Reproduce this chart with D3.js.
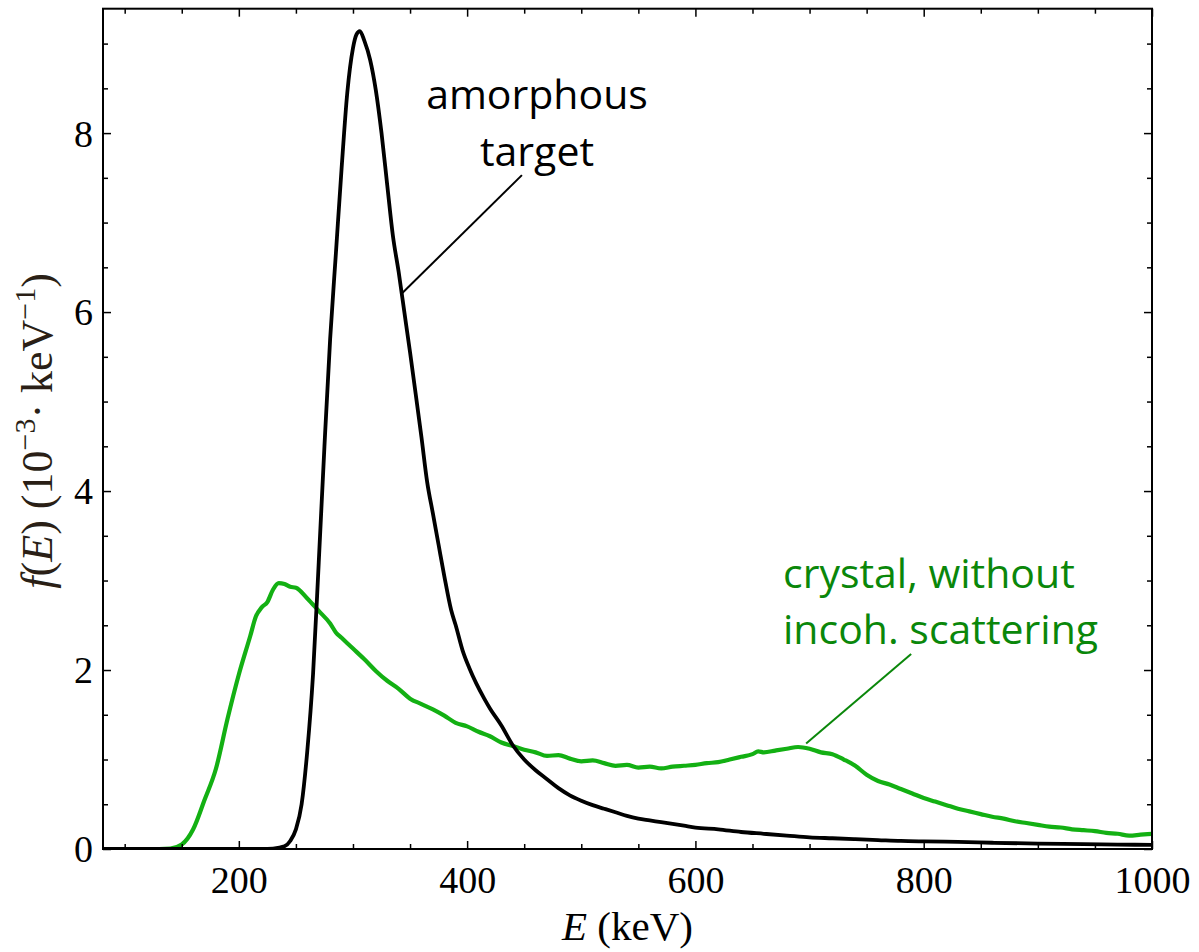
<!DOCTYPE html>
<html>
<head>
<meta charset="utf-8">
<script src="https://cdn.jsdelivr.net/npm/d3@7"></script>
<style>
  html, body { margin: 0; padding: 0; background: #fff; }
  svg { display: block; }
</style>
</head>
<body>
<svg id="chart" width="1199" height="952"></svg>
<script>
// Photon energy (keV) and spectral density f(E) in units of 1e-3 keV^-1
const amorphousE = [81, 200, 220, 230, 240, 245, 250, 255, 260, 265, 270, 275, 280, 285, 290, 295, 300, 303, 306, 310, 315, 320, 325, 330, 335, 340, 345, 350, 355, 360, 365, 370, 375, 380, 386, 390, 396, 402, 408, 415, 420, 430, 440, 450, 460, 470, 480, 490, 500, 510, 520, 530, 540, 550, 560, 570, 580, 590, 600, 620, 640, 660, 680, 700, 720, 740, 760, 780, 800, 830, 860, 900, 940, 970, 1000];
const amorphousF = [0, 0, 0, 0.005, 0.03, 0.09, 0.22, 0.5, 1.1, 1.95, 3.2, 4.5, 5.7, 6.65, 7.6, 8.45, 8.95, 9.1, 9.14, 9.03, 8.82, 8.48, 8.0, 7.42, 6.85, 6.45, 6.0, 5.55, 5.08, 4.6, 4.1, 3.75, 3.4, 3.05, 2.67, 2.5, 2.22, 2.02, 1.85, 1.68, 1.57, 1.38, 1.16, 1.0, 0.88, 0.78, 0.68, 0.6, 0.54, 0.49, 0.45, 0.41, 0.37, 0.34, 0.32, 0.3, 0.28, 0.26, 0.24, 0.22, 0.19, 0.17, 0.15, 0.13, 0.12, 0.11, 0.1, 0.09, 0.085, 0.08, 0.07, 0.06, 0.055, 0.05, 0.045];

const crystalE = [81, 130, 140, 150, 160, 170, 180, 190, 200, 210, 215, 220, 225, 230, 235, 240, 245, 250, 260, 270, 280, 285, 290, 300, 310, 320, 330, 340, 350, 360, 370, 380, 390, 400, 410, 420, 430, 440, 450, 460, 470, 480, 490, 500, 510, 520, 530, 540, 550, 560, 570, 580, 590, 600, 610, 620, 630, 640, 650, 655, 660, 670, 680, 690, 700, 710, 720, 730, 740, 750, 760, 770, 780, 790, 800, 810, 820, 830, 840, 850, 860, 870, 880, 890, 900, 910, 920, 930, 940, 950, 960, 970, 980, 990, 1000];
const crystalF = [0, 0, 0.005, 0.05, 0.22, 0.55, 0.9, 1.45, 1.95, 2.38, 2.6, 2.7, 2.76, 2.9, 2.97, 2.96, 2.93, 2.92, 2.8, 2.66, 2.52, 2.42, 2.36, 2.24, 2.12, 1.99, 1.88, 1.79, 1.68, 1.62, 1.56, 1.49, 1.41, 1.37, 1.31, 1.26, 1.19, 1.15, 1.11, 1.08, 1.04, 1.05, 1.01, 0.98, 0.99, 0.96, 0.93, 0.94, 0.91, 0.92, 0.9, 0.92, 0.93, 0.94, 0.96, 0.97, 1.0, 1.03, 1.06, 1.09, 1.08, 1.1, 1.12, 1.14, 1.12, 1.08, 1.06, 1.0, 0.93, 0.83, 0.76, 0.72, 0.67, 0.62, 0.57, 0.53, 0.49, 0.45, 0.42, 0.39, 0.36, 0.34, 0.31, 0.29, 0.27, 0.25, 0.24, 0.22, 0.21, 0.2, 0.18, 0.17, 0.15, 0.16, 0.17];

// Axis ticks
const xMajorTicks = [200, 400, 600, 800, 1000];
const xMinorTicks = [100, 150, 250, 300, 350, 450, 500, 550, 650, 700, 750, 850, 900, 950];
const yMajorTicks = [0, 2, 4, 6, 8];
const yMinorTicks = [0.5, 1, 1.5, 2.5, 3, 3.5, 4.5, 5, 5.5, 6.5, 7, 7.5, 8.5, 9];

// Callouts: [E, f] where the leader touches the curve and where it ends near the text
const amorphousLeader = [[343, 6.21], [448, 7.53]];
const crystalLeader = [[697, 1.18], [789, 2.18]];

const svg = d3.select("#chart");
const plot = { left: 103, right: 1152, top: 8.7, bottom: 849 };

const x = d3.scaleLinear().domain([81, 1000]).range([plot.left, plot.right]);
const y = d3.scaleLinear().domain([0, 9.39]).range([plot.bottom, plot.top]);

const serif = "'Liberation Serif', 'Times New Roman', serif";
const sans = "'Open Sans', 'Noto Sans', sans-serif";

svg.append("defs").append("clipPath").attr("id", "plotClip")
  .append("rect")
  .attr("x", plot.left).attr("y", plot.top)
  .attr("width", plot.right - plot.left).attr("height", plot.bottom - plot.top);

// Curves
const line = d3.line().x(d => x(d[0])).y(d => y(d[1])).curve(d3.curveMonotoneX);
const curves = svg.append("g").attr("clip-path", "url(#plotClip)");

curves.append("path")
  .datum(crystalE.map((e, i) => [e, crystalF[i]]))
  .attr("d", line)
  .attr("fill", "none")
  .attr("stroke", "#13b013")
  .attr("stroke-width", 4.2)
  .attr("stroke-linejoin", "round");

curves.append("path")
  .datum(amorphousE.map((e, i) => [e, amorphousF[i]]))
  .attr("d", line)
  .attr("fill", "none")
  .attr("stroke", "#000")
  .attr("stroke-width", 3.8)
  .attr("stroke-linejoin", "round");

// Frame axes with inward ticks on all four sides
function frameAxis(axisGen, tx, ty, ticks, size) {
  const g = svg.append("g").attr("transform", `translate(${tx},${ty})`)
    .call(axisGen.tickValues(ticks).tickSizeInner(-size).tickSizeOuter(0).tickFormat(""));
  g.select(".domain").remove();
  g.selectAll(".tick line").attr("stroke", "#000").attr("stroke-width", 1.5);
  g.selectAll(".tick text").remove();
  return g;
}
frameAxis(d3.axisBottom(x), 0, plot.bottom, xMajorTicks, 8);
frameAxis(d3.axisBottom(x), 0, plot.bottom, xMinorTicks, 5);
frameAxis(d3.axisTop(x), 0, plot.top, xMajorTicks, 8);
frameAxis(d3.axisTop(x), 0, plot.top, xMinorTicks, 5);
frameAxis(d3.axisLeft(y), plot.left, 0, yMajorTicks, 8);
frameAxis(d3.axisLeft(y), plot.left, 0, yMinorTicks, 5);
frameAxis(d3.axisRight(y), plot.right, 0, yMajorTicks, 8);
frameAxis(d3.axisRight(y), plot.right, 0, yMinorTicks, 5);

svg.append("rect")
  .attr("x", plot.left).attr("y", plot.top)
  .attr("width", plot.right - plot.left).attr("height", plot.bottom - plot.top)
  .attr("fill", "none").attr("stroke", "#000").attr("stroke-width", 2);

// Tick labels
const xLabels = svg.append("g").attr("transform", `translate(0,${plot.bottom})`)
  .call(d3.axisBottom(x).tickValues(xMajorTicks).tickSize(0).tickPadding(0).tickFormat(d3.format("d")));
xLabels.select(".domain").remove();
xLabels.selectAll(".tick text")
  .attr("y", 44).attr("dy", 0)
  .attr("font-family", serif).attr("font-size", 38).attr("fill", "#000");

const yLabels = svg.append("g").attr("transform", `translate(${plot.left},0)`)
  .call(d3.axisLeft(y).tickValues(yMajorTicks).tickSize(0).tickPadding(0).tickFormat(d3.format("d")));
yLabels.select(".domain").remove();
yLabels.selectAll(".tick text")
  .attr("x", -10).attr("dy", "0.34em")
  .attr("font-family", serif).attr("font-size", 38).attr("fill", "#000");

// Axis titles
const xTitle = svg.append("text")
  .attr("x", (plot.left + plot.right) / 2).attr("y", 940)
  .attr("text-anchor", "middle")
  .attr("font-family", serif).attr("font-size", 41).attr("fill", "#000");
xTitle.append("tspan").attr("font-style", "italic").text("E");
xTitle.append("tspan").text(" (keV)");

const yTitle = svg.append("text")
  .attr("transform", `translate(52,${(plot.top + plot.bottom) / 2 + 2}) rotate(-90)`)
  .attr("text-anchor", "middle")
  .attr("font-family", serif).attr("font-size", 44).attr("fill", "#2a1f16");
yTitle.append("tspan").attr("font-style", "italic").text("f");
yTitle.append("tspan").text("(");
yTitle.append("tspan").attr("font-style", "italic").text("E");
yTitle.append("tspan").text(") (10");
yTitle.append("tspan").attr("font-size", 30).attr("dy", -17).text("\u22123");
yTitle.append("tspan").attr("dy", 17).text("\u00b7 keV");
yTitle.append("tspan").attr("font-size", 30).attr("dy", -17).text("\u22121");
yTitle.append("tspan").attr("dy", 17).text(")");

// Callouts
svg.append("line")
  .attr("x1", x(amorphousLeader[0][0])).attr("y1", y(amorphousLeader[0][1]))
  .attr("x2", x(amorphousLeader[1][0])).attr("y2", y(amorphousLeader[1][1]))
  .attr("stroke", "#000").attr("stroke-width", 2);

svg.append("line")
  .attr("x1", x(crystalLeader[0][0])).attr("y1", y(crystalLeader[0][1]))
  .attr("x2", x(crystalLeader[1][0])).attr("y2", y(crystalLeader[1][1]))
  .attr("stroke", "#0a870a").attr("stroke-width", 2);

const amText = svg.append("text")
  .attr("text-anchor", "middle")
  .attr("font-family", sans).attr("font-size", 41).attr("fill", "#000");
amText.append("tspan").attr("x", 537).attr("y", 109).text("amorphous");
amText.append("tspan").attr("x", 537).attr("y", 166).text("target");

const crText = svg.append("text")
  .attr("text-anchor", "start")
  .attr("font-family", sans).attr("font-size", 41).attr("fill", "#0a870a");
crText.append("tspan").attr("x", 783).attr("y", 588).text("crystal, without");
crText.append("tspan").attr("x", 783).attr("y", 644).text("incoh. scattering");
</script>
</body>
</html>
